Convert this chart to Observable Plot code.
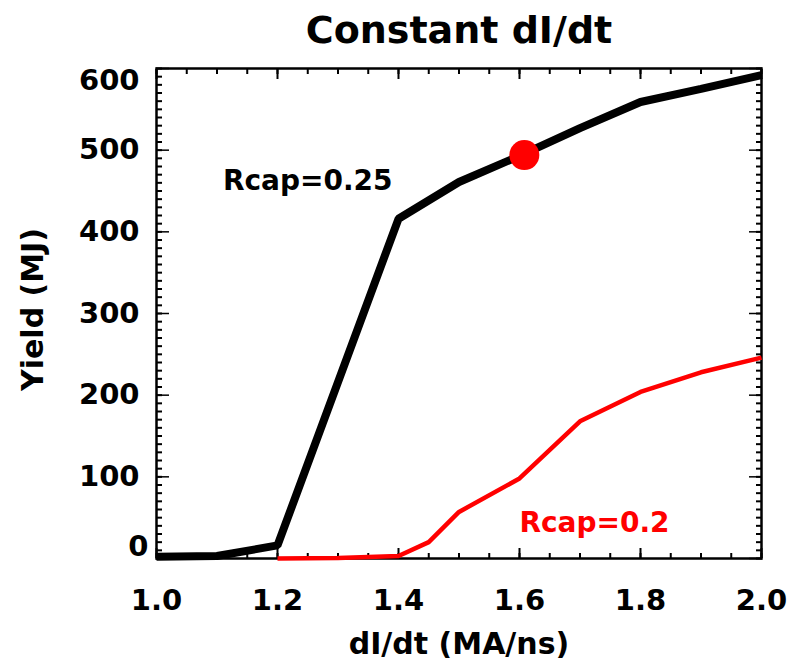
<!DOCTYPE html>
<html>
<head>
<meta charset="utf-8">
<script src="https://cdn.jsdelivr.net/npm/d3@7"></script>
<script src="https://cdn.jsdelivr.net/npm/@observablehq/plot@0.6"></script>
<style>
  html, body { margin: 0; padding: 0; background: white; }
</style>
</head>
<body>
<div id="chart"></div>
<script>
// ---- data ----
const blackX = [1.0, 1.1, 1.2, 1.4, 1.5, 1.6, 1.7, 1.8, 1.9, 2.0];
const blackY = [2, 3, 16, 416, 461, 493, 527, 559, 575, 592];
const redX = [1.2, 1.3, 1.4, 1.45, 1.5, 1.6, 1.7, 1.8, 1.9, 2.0];
const redY = [0, 0.5, 3, 20, 57, 98, 168, 204, 228, 246];
const markerX = [1.608];
const markerY = [494];
const labelTexts = ["Rcap=0.25", "Rcap=0.2"];
const labelX = [1.25, 1.724];
const labelY = [462, 43];
const titleText = "Constant dI/dt";
const xTitle = "dI/dt (MA/ns)";
const yTitle = "Yield (MJ)";
const xTicks = [1.0, 1.2, 1.4, 1.6, 1.8, 2.0];
const xTickLabels = ["1.0", "1.2", "1.4", "1.6", "1.8", "2.0"];
const yTicks = [0, 100, 200, 300, 400, 500, 600];
const yTickLabels = ["0", "100", "200", "300", "400", "500", "600"];
const xMinor = d3.range(0, 21).map(i => 1 + i * 0.05);
const yMinor = d3.range(0, 61).map(i => i * 10);

const black = blackX.map((x, i) => ({x, y: blackY[i]}));
const red = redX.map((x, i) => ({x, y: redY[i]}));
const marker = markerX.map((x, i) => ({x, y: markerY[i]}));
const labels = labelTexts.map((t, i) => ({t, x: labelX[i], y: labelY[i]}));
const fmtX = d => xTickLabels[xTicks.findIndex(v => Math.abs(v - d) < 1e-9)];
const fmtY = d => yTickLabels[yTicks.indexOf(d)];
const midY = yTicks.slice(1, -1);

const tickOpts = {fill: "none", label: null, stroke: "black"};

const chart = Plot.plot({
  width: 788,
  height: 666,
  marginLeft: 156,
  marginRight: 27,
  marginTop: 68,
  marginBottom: 108,
  x: {domain: [1, 2]},
  y: {domain: [0, 600]},
  style: {fontFamily: "DejaVu Sans", fontWeight: "bold", fontSize: "29px", color: "black", background: "white"},
  marks: [
    // minor & major ticks (inward) on all four sides
    Plot.axisX({...tickOpts, ticks: xMinor, anchor: "bottom", tickSize: -5, strokeWidth: 2}),
    Plot.axisX({...tickOpts, ticks: xMinor, anchor: "top", tickSize: -5, strokeWidth: 2}),
    Plot.axisX({...tickOpts, ticks: xTicks, anchor: "bottom", tickSize: -10, strokeWidth: 2}),
    Plot.axisX({...tickOpts, ticks: xTicks, anchor: "top", tickSize: -10, strokeWidth: 2}),
    Plot.axisY({...tickOpts, ticks: yMinor, anchor: "left", tickSize: -6, strokeWidth: 2}),
    Plot.axisY({...tickOpts, ticks: yMinor, anchor: "right", tickSize: -6, strokeWidth: 2}),
    Plot.axisY({...tickOpts, ticks: yTicks, anchor: "left", tickSize: -13, strokeWidth: 1.5}),
    Plot.axisY({...tickOpts, ticks: yTicks, anchor: "right", tickSize: -13, strokeWidth: 1.5}),
    // tick labels
    Plot.axisX({ticks: xTicks, anchor: "bottom", tickSize: 0, tickPadding: 31, tickFormat: fmtX, label: null, fontSize: 29}),
    Plot.axisY({ticks: midY, anchor: "left", tickSize: 0, tickPadding: 17, tickFormat: fmtY, label: null, fontSize: 29}),
    Plot.axisY({ticks: [600], anchor: "left", tickSize: 0, tickPadding: 17, tickFormat: fmtY, label: null, fontSize: 29, dy: 12}),
    Plot.axisY({ticks: [0], anchor: "left", tickSize: 0, tickPadding: 17, tickFormat: fmtY, label: null, fontSize: 29, dy: -12, dx: 9}),
    // frame
    Plot.frame({stroke: "black", strokeWidth: 2.5}),
    // series
    Plot.line(black, {x: "x", y: "y", stroke: "black", strokeWidth: 8, strokeLinejoin: "miter", strokeLinecap: "butt"}),
    Plot.line(red, {x: "x", y: "y", stroke: "#ff0000", strokeWidth: 4.5, strokeLinecap: "butt"}),
    Plot.dot(marker, {x: "x", y: "y", r: 15, fill: "#ff0000", stroke: "none"}),
    Plot.text(labels, {x: "x", y: "y", text: "t", fill: (d, i) => i === 0 ? "black" : "#ff0000", fontSize: 28, fontWeight: "bold", lineAnchor: "middle"}),
    // titles
    Plot.text([titleText], {frameAnchor: "top", dy: -38, fontSize: 38, fontWeight: "bold", lineAnchor: "middle", textAnchor: "middle"}),
    Plot.text([xTitle], {frameAnchor: "bottom", dy: 86, fontSize: 30, fontWeight: "bold", lineAnchor: "middle", textAnchor: "middle"}),
    Plot.text([yTitle], {frameAnchor: "left", dx: -123, dy: -4, rotate: -90, fontSize: 30, fontWeight: "bold", lineAnchor: "middle", textAnchor: "middle"})
  ]
});
document.getElementById("chart").append(chart);
</script>
</body>
</html>
